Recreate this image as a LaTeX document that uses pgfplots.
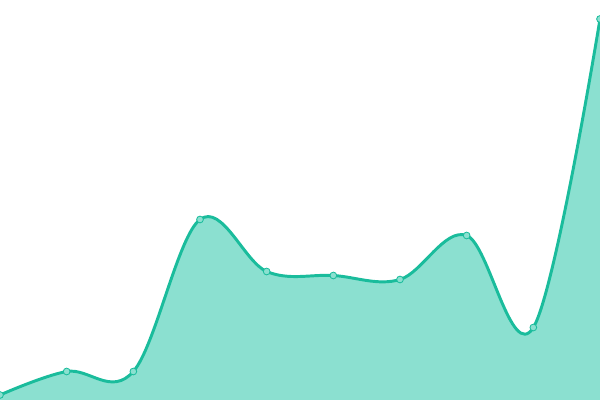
\documentclass[border=0pt]{standalone}
\usepackage{pgfplots}
\pgfplotsset{compat=1.18}
\definecolor{linec}{HTML}{1ABC9C}
\definecolor{areac}{HTML}{8BE0D0}
\begin{document}
\begin{tikzpicture}
\begin{axis}[
    width=15cm, height=10cm,
    scale only axis,
    hide axis,
    xmin=0, xmax=9,
    ymin=0, ymax=400,
    clip=true,
]
\addplot[smooth, tension=0.6, fill=areac, draw=none] coordinates {
  (0,5) (1,28.5) (2,28.5) (3,180.5) (4,128.5) (5,124.5)
  (6,120.5) (7,164.5) (8,72.5) (9,381)
} \closedcycle;
\addplot[smooth, tension=0.6, linec, line width=2.1pt, mark=*, mark size=2.4pt,
  mark options={fill=areac, draw=linec, line width=0.6pt}] coordinates {
  (0,5) (1,28.5) (2,28.5) (3,180.5) (4,128.5) (5,124.5)
  (6,120.5) (7,164.5) (8,72.5) (9,381)
};
\end{axis}
\pgfresetboundingbox
\useasboundingbox (current axis.south west) rectangle (current axis.north east);
\end{tikzpicture}
\end{document}
